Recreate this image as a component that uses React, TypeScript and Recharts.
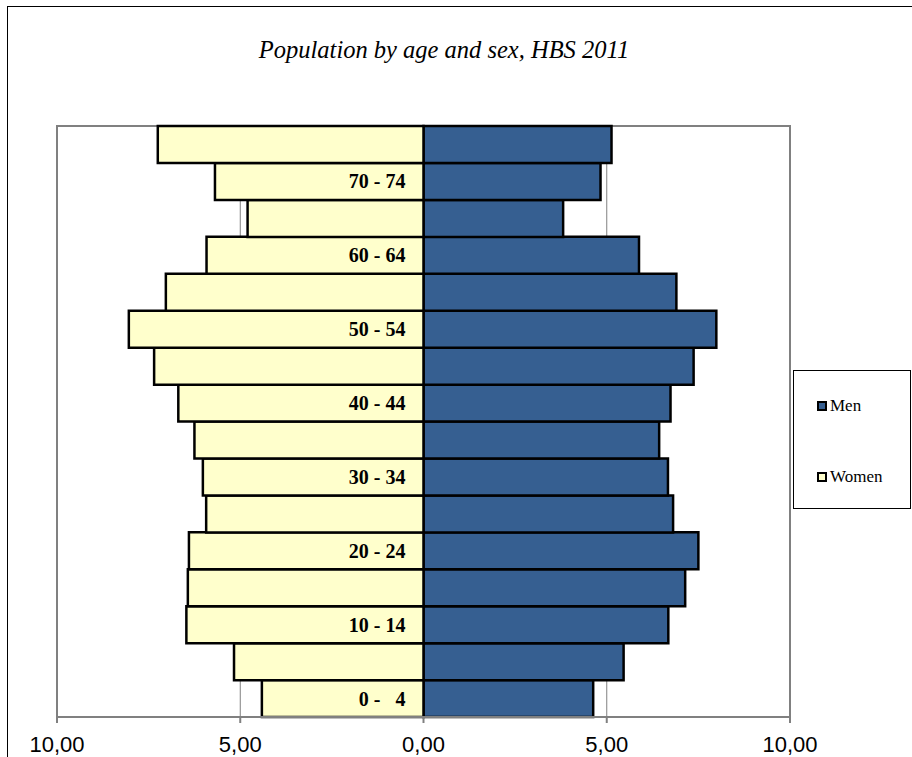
import React from "react";
import {
  BarChart,
  Bar,
  XAxis,
  YAxis,
  CartesianGrid,
  Legend,
  LabelList,
  ReferenceArea,
} from "recharts";

const ageGroups = [
  "0 -   4",
  "5 -   9",
  "10 - 14",
  "15 - 19",
  "20 - 24",
  "25 - 29",
  "30 - 34",
  "35 - 39",
  "40 - 44",
  "45 - 49",
  "50 - 54",
  "55 - 59",
  "60 - 64",
  "65 - 69",
  "70 - 74",
  "75 +",
];

const menValues = [4.63, 5.46, 6.68, 7.14, 7.5, 6.81, 6.67, 6.43, 6.74, 7.37, 7.99, 6.9, 5.88, 3.81, 4.83, 5.13];
const womenValues = [4.41, 5.17, 6.47, 6.43, 6.4, 5.93, 6.02, 6.25, 6.69, 7.35, 8.04, 7.03, 5.92, 4.8, 5.69, 7.25];

const xTicks = [-10, -5, 0, 5, 10];

const chartTitle = "Population by age and sex, HBS 2011";

const data = ageGroups.map((age, i) => ({
  age,
  Men: menValues[i],
  Women: -womenValues[i],
}));

const SERIF = "'Liberation Serif', 'Times New Roman', Times, serif";
const SANS = "'Liberation Sans', Arial, Helvetica, sans-serif";

const MEN_COLOR = "#365F91";
const WOMEN_COLOR = "#FFFFCC";

const AgeLabel = (props: any) => {
  const { x, y, width, height, index } = props;
  if (index % 2 !== 0) return null;
  const right = Math.max(x, x + width);
  return (
    <text
      x={right - 18}
      y={y + height / 2}
      textAnchor="end"
      dominantBaseline="central"
      fontFamily={SERIF}
      fontWeight="bold"
      fontSize={20}
      fill="#000"
      style={{ whiteSpace: "pre" }}
    >
      {ageGroups[index]}
    </text>
  );
};

const LegendBox = (props: any) => {
  const payload = props.payload || [];
  return (
    <div
      style={{
        width: 118,
        height: 139,
        border: "1px solid #000",
        boxSizing: "border-box",
        position: "relative",
        background: "#fff",
      }}
    >
      {payload.map((p: any, i: number) => (
        <div
          key={p.value}
          style={{
            position: "absolute",
            left: 23,
            top: i === 0 ? 25 : 96,
            display: "flex",
            alignItems: "center",
            fontFamily: SERIF,
            fontSize: 17,
            lineHeight: "20px",
            color: "#000",
          }}
        >
          <span
            style={{
              display: "inline-block",
              width: 6,
              height: 6,
              border: "2px solid #000",
              background: p.color,
              marginRight: 3,
            }}
          />
          {p.value}
        </div>
      ))}
    </div>
  );
};

export default function App() {
  return (
    <div
      style={{
        position: "fixed",
        left: 7,
        top: 6,
        width: 930,
        height: 780,
        border: "1px solid #000",
        background: "#fff",
      }}
    >
      <div
        style={{
          position: "absolute",
          left: 0,
          top: 30,
          width: 872,
          textAlign: "center",
          fontFamily: SERIF,
          fontStyle: "italic",
          fontSize: 24.5,
          lineHeight: "25px",
          color: "#000",
          whiteSpace: "nowrap",
        }}
      >
        {chartTitle}
      </div>
      <BarChart
        width={905}
        height={750}
        data={data}
        layout="vertical"
        stackOffset="sign"
        barCategoryGap={0}
        margin={{ top: 119, right: 5, bottom: 0, left: 49 }}
      >
        <CartesianGrid horizontal={false} vertical={true} stroke="#808080" strokeWidth={1} />
        <ReferenceArea x1={-10} x2={10} fill="none" stroke="#808080" strokeWidth={2} ifOverflow="visible" />
        <XAxis
          type="number"
          domain={[-10, 10]}
          ticks={xTicks}
          allowDataOverflow
          stroke="#808080"
          strokeWidth={2}
          tickSize={6}
          tickMargin={13}
          height={40}
          tick={{ fill: "#000", fontFamily: SANS, fontSize: 22 }}
          tickFormatter={(v: number) => Math.abs(v).toFixed(2).replace(".", ",")}
        />
        <YAxis type="category" dataKey="age" reversed hide width={0} />
        <Legend
          layout="vertical"
          align="right"
          verticalAlign="middle"
          content={<LegendBox />}
          wrapperStyle={{ left: 785, top: 363, width: 118, height: 139 }}
        />
        <Bar
          dataKey="Men"
          stackId="pop"
          fill={MEN_COLOR}
          stroke="#000"
          strokeWidth={2.5}
          isAnimationActive={false}
        />
        <Bar
          dataKey="Women"
          stackId="pop"
          fill={WOMEN_COLOR}
          stroke="#000"
          strokeWidth={2.5}
          isAnimationActive={false}
        >
          <LabelList dataKey="Women" content={<AgeLabel />} />
        </Bar>
      </BarChart>
    </div>
  );
}
